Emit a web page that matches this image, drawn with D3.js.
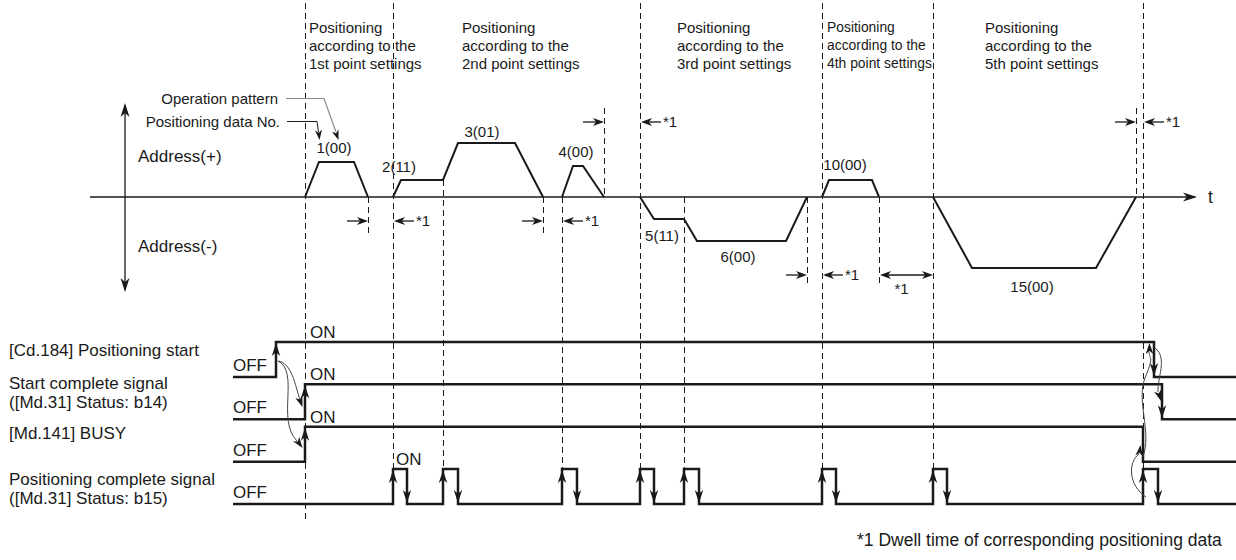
<!DOCTYPE html>
<html><head><meta charset="utf-8">
<script src="https://cdn.jsdelivr.net/npm/d3@7"></script>
<style>
html,body{margin:0;padding:0;background:#fff;}
svg{display:block;font-family:"Liberation Sans",Arial,Helvetica,sans-serif;}
</style></head><body>
<svg id="c" width="1236" height="560"></svg>
<script>
// ---------------- DATA ----------------
// time axis is in arbitrary units, address in arbitrary units
const pointOrdinals = ["1st", "2nd", "3rd", "4th", "5th"];
const titleStartT = [18.4, 33.7, 55.2, 70.2, 86.0];

// speed/address profiles: [time, address]
const profile1 = [[18.0, 0], [19.4, 3.5], [22.9, 3.5], [24.3, 0]];
const profile2 = [[26.8, 0], [27.6, 1.7], [31.8, 1.7], [33.3, 5.4], [39.0, 5.4], [41.8, 0]];
const profile3 = [[43.7, 0], [44.8, 3.1], [45.8, 3.1], [47.9, 0]];
const profile4 = [[51.5, 0], [52.9, -2.2], [55.9, -2.2], [57.2, -4.4], [66.1, -4.4], [68.2, 0]];
const profile5 = [[69.7, 0], [70.4, 1.7], [74.7, 1.7], [75.4, 0]];
const profile6 = [[80.8, 0], [84.7, -7.1], [97.1, -7.1], [101.1, 0]];

const dataLabels = ["1(00)", "2(11)", "3(01)", "4(00)", "5(11)", "6(00)", "10(00)", "15(00)"];
const dataLabelT = [20.9, 27.4, 35.7, 45.1, 53.7, 61.3, 72.0, 90.7];
const dataLabelAddr = [4.4, 2.5, 6.0, 4.0, -4.4, -6.5, 2.7, -9.5];

// dashed guides
const guidesFromTop = [18.0, 26.8, 51.5, 69.7, 80.8, 101.8];
const guidesFromProfile = [[31.8, 1.7], [43.7, 0], [55.9, 0]];
const dwellMarks = [[24.3, 0, -3.8], [41.8, 0, -3.8], [47.9, 8.9, 0], [68.2, 0, -9.0], [75.4, 0, -9.0], [101.1, 8.9, 0]];

// dwell time indicators [end of positioning, next start, address level]
const dwellOutside = [[24.3, 26.8, -2.4], [41.8, 43.7, -2.4], [47.9, 51.5, 7.5], [68.2, 69.7, -7.8], [101.1, 101.8, 7.5]];
const dwellInside = [[75.4, 80.8, -7.8]];

// signals
const signalLabels = [
  ["[Cd.184] Positioning start"],
  ["Start complete signal", "([Md.31] Status: b14)"],
  ["[Md.141] BUSY"],
  ["Positioning complete signal", "([Md.31] Status: b15)"]
];
const signalStartT = 10.8, signalEndT = 111.1;
const cd184Edges = [15.1, 102.9];
const startCompleteEdges = [18.0, 103.7];
const busyEdges = [18.0, 101.8];
const posCompleteEdges = [26.8, 28.2, 31.8, 33.3, 43.7, 45.2, 51.5, 52.9, 55.9, 57.4, 69.7, 71.1, 80.8, 82.2, 101.8, 103.3];
const onLabelT = [18.5, 18.5, 18.5, 27.1];

const footnote = "*1 Dwell time of corresponding positioning data";

// ---------------- SCALES ----------------
const svg = d3.select("#c");
const x = d3.scaleLinear().domain([0, 111.1]).range([125, 1236]);
const y = d3.scaleLinear().domain([-10, 10]).range([297, 97]);
const row = d3.scaleLinear().domain([0, 3]).range([377, 504]);
const lvl = d3.scaleLinear().domain([0, 1]).range([0, -35]);
const INK = "#1a1a1a";
const FONT_S = 15, FONT_L = 17;

function arrowHead(g, tx, ty, ang, len = 11, half = 4, col = INK) {
  const dx = Math.cos(ang), dy = Math.sin(ang), px = -dy, py = dx;
  const bx = tx - dx * len, by = ty - dy * len;
  const nx = tx - dx * len * 0.72, ny = ty - dy * len * 0.72;
  g.append("path")
    .attr("d", `M${tx},${ty}L${bx + px * half},${by + py * half}L${nx},${ny}L${bx - px * half},${by - py * half}Z`)
    .attr("fill", col);
}

// ---------------- GUIDES ----------------
const gGuide = svg.append("g").attr("stroke", INK).attr("stroke-width", 1).attr("stroke-dasharray", "6,4").attr("fill", "none");
guidesFromTop.forEach((t, i) => {
  const yEnd = i === 0 ? 520 : row(3) + lvl(1);
  gGuide.append("line").attr("x1", Math.round(x(t)) + 0.5).attr("x2", Math.round(x(t)) + 0.5).attr("y1", 3).attr("y2", yEnd);
});
guidesFromProfile.forEach(([t, a]) => {
  gGuide.append("line").attr("x1", Math.round(x(t)) + 0.5).attr("x2", Math.round(x(t)) + 0.5).attr("y1", y(a)).attr("y2", row(3) + lvl(1));
});
dwellMarks.forEach(([t, a1, a2]) => {
  gGuide.append("line").attr("x1", Math.round(x(t)) + 0.5).attr("x2", Math.round(x(t)) + 0.5).attr("y1", y(a1)).attr("y2", y(a2));
});

// ---------------- TITLES ----------------
pointOrdinals.forEach((o, i) => {
  const g = svg.append("g").attr("transform", `translate(${x(titleStartT[i])},0)` + (i === 3 ? " scale(0.925,1)" : ""));
  ["Positioning", "according to the", `${o} point settings`].forEach((s, k) => {
    g.append("text").attr("x", 0).attr("y", 32.5 + k * 18).attr("font-size", FONT_S).attr("fill", INK).text(s);
  });
});

// ---------------- AXES ----------------
const gAx = svg.append("g");
gAx.append("line").attr("x1", 90).attr("x2", x(107.0)).attr("y1", y(0)).attr("y2", y(0)).attr("stroke", INK).attr("stroke-width", 1.3);
arrowHead(gAx, x(107.2), y(0), 0, 14, 4.5);
gAx.append("text").attr("x", x(108.3)).attr("y", y(0) + 6).attr("font-size", 17.5).attr("fill", INK).text("t");
gAx.append("line").attr("x1", x(0)).attr("x2", x(0)).attr("y1", y(9.2)).attr("y2", y(-9.3)).attr("stroke", INK).attr("stroke-width", 1.3);
arrowHead(gAx, x(0), y(9.4), -Math.PI / 2, 14, 4.5);
arrowHead(gAx, x(0), y(-9.5), Math.PI / 2, 14, 4.5);
gAx.append("text").attr("x", 138).attr("y", y(0) - 35).attr("font-size", 17).attr("fill", INK).text("Address(+)");
gAx.append("text").attr("x", 138).attr("y", y(0) + 55).attr("font-size", 17).attr("fill", INK).text("Address(-)");

// callouts
gAx.append("text").attr("x", 278).attr("y", 104).attr("text-anchor", "end").attr("font-size", FONT_S).attr("fill", INK).text("Operation pattern");
gAx.append("text").attr("x", 280).attr("y", 127).attr("text-anchor", "end").attr("font-size", FONT_S).attr("fill", INK).text("Positioning data No.");
gAx.append("path").attr("d", "M286,98.5L324,98.5L336,132").attr("fill", "none").attr("stroke", "#8a8a8a").attr("stroke-width", 1.2);
arrowHead(gAx, 338.5, 140, Math.atan2(8, 2.8), 10, 3.5);
gAx.append("path").attr("d", "M287,121.5L317,121.5L318.5,132").attr("fill", "none").attr("stroke", INK).attr("stroke-width", 1);
arrowHead(gAx, 319.5, 140, Math.atan2(8, 0.8), 10, 3.5);

// ---------------- PROFILES ----------------
const line = d3.line().x(d => x(d[0])).y(d => y(d[1]));
[profile1, profile2, profile3, profile4, profile5, profile6].forEach(p => {
  svg.append("path").attr("d", line(p)).attr("fill", "none").attr("stroke", INK).attr("stroke-width", 2).attr("stroke-linejoin", "miter");
});
dataLabels.forEach((s, i) => {
  svg.append("text").attr("x", x(dataLabelT[i])).attr("y", y(dataLabelAddr[i])).attr("text-anchor", "middle")
    .attr("font-size", FONT_S).attr("fill", INK).text(s);
});

// ---------------- DWELL ARROWS ----------------
const gD = svg.append("g");
dwellOutside.forEach(([t1, t2, a]) => {
  const yy = y(a), x1 = Math.round(x(t1)), x2 = Math.round(x(t2));
  gD.append("line").attr("x1", x1 - 21).attr("x2", x1 - 6).attr("y1", yy).attr("y2", yy).attr("stroke", INK).attr("stroke-width", 1.3);
  arrowHead(gD, x1, yy, 0, 11, 4);
  gD.append("line").attr("x1", x2 + 21).attr("x2", x2 + 6).attr("y1", yy).attr("y2", yy).attr("stroke", INK).attr("stroke-width", 1.3);
  arrowHead(gD, x2 + 1, yy, Math.PI, 11, 4);
  gD.append("text").attr("x", x2 + 23).attr("y", yy + 5).attr("font-size", FONT_S).attr("fill", INK).text("*1");
});
dwellInside.forEach(([t1, t2, a]) => {
  const yy = y(a), x1 = Math.round(x(t1)) + 1, x2 = Math.round(x(t2));
  gD.append("line").attr("x1", x1 + 6).attr("x2", x2 - 6).attr("y1", yy).attr("y2", yy).attr("stroke", INK).attr("stroke-width", 1.3);
  arrowHead(gD, x1, yy, Math.PI, 11, 4);
  arrowHead(gD, x2, yy, 0, 11, 4);
  gD.append("text").attr("x", (x1 + x2) / 2 - 5).attr("y", yy + 19).attr("text-anchor", "middle").attr("font-size", FONT_S).attr("fill", INK).text("*1");
});

// ---------------- SIGNALS ----------------
const gS = svg.append("g");
const lineBaselines = [[356], [389, 408], [439], [485, 504]];
signalLabels.forEach((ls, i) => {
  ls.forEach((s, k) => {
    gS.append("text").attr("x", 9).attr("y", lineBaselines[i][k]).attr("font-size", FONT_L).attr("fill", INK).text(s);
  });
  gS.append("text").attr("x", 233).attr("y", row(i) - 6).attr("font-size", 17).attr("fill", INK).text("OFF");
  gS.append("text").attr("x", x(onLabelT[i])).attr("y", row(i) + lvl(1) - 4).attr("font-size", 17).attr("fill", INK).text("ON");
});
const allEdges = [cd184Edges, startCompleteEdges, busyEdges, posCompleteEdges];
allEdges.forEach((edges, i) => {
  const base = row(i);
  let lev = 0;
  const pts = [[x(signalStartT), base]];
  edges.forEach(t => {
    pts.push([x(t), base + lvl(lev)]);
    lev = 1 - lev;
    pts.push([x(t), base + lvl(lev)]);
  });
  pts.push([x(signalEndT), base + lvl(lev)]);
  gS.append("path").attr("d", d3.line()(pts)).attr("fill", "none").attr("stroke", INK).attr("stroke-width", 2.5).attr("stroke-linejoin", "miter");
  edges.forEach((t, k) => {
    const rising = k % 2 === 0;
    if (i === 2 && !rising) return;
    if (rising) arrowHead(gS, x(t), base + lvl(1) + 1, -Math.PI / 2, 13, 4.2);
    else arrowHead(gS, x(t), base - 1, Math.PI / 2, 13, 4.2);
  });
});

// causal curves
const gC = svg.append("g").attr("fill", "none").attr("stroke", "#444").attr("stroke-width", 1);
gC.append("path").attr("d", "M278,361 C292,363 295,385 300,400");
arrowHead(svg, 302.5, 407, Math.atan2(7, 2.5), 11, 3.8);
gC.append("path").attr("d", "M278,361 C300,372 276,420 297,441");
arrowHead(svg, 302.5, 448, Math.atan2(7, 5), 11, 3.8);
gC.append("path").attr("d", "M1146,497 C1128,485 1128,462 1139,454");
arrowHead(svg, 1140.5, 445, -Math.atan2(8, 1) , 11, 3.8);
gC.append("path").attr("d", "M1143,457 C1152,432 1136,400 1145,378 S1150,360 1149,352");
arrowHead(svg, 1149.5, 343, -Math.PI / 2, 11, 3.8);
gC.append("path").attr("d", "M1155,348 C1168,358 1157,378 1158,392");
arrowHead(svg, 1161, 401, Math.atan2(8, 2.5), 11, 3.8);

// footnote
svg.append("text").attr("x", 857).attr("y", 546).attr("font-size", 17.5).attr("fill", INK).text(footnote);
</script>
</body></html>
